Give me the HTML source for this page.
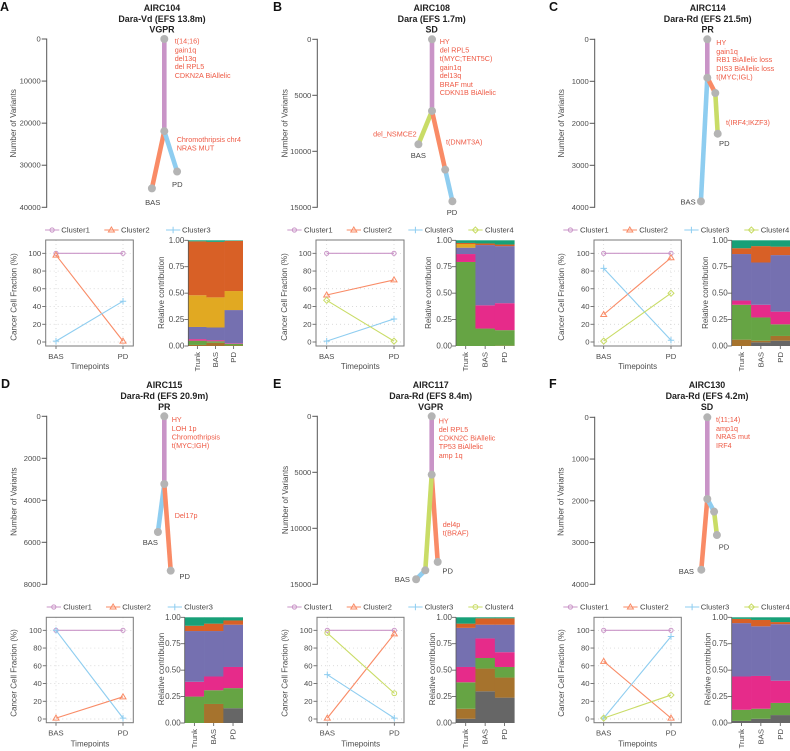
<!DOCTYPE html>
<html lang="en">
<head>
<meta charset="utf-8">
<title>Clonal evolution panels</title>
<style>
html,body{margin:0;padding:0;background:#fff;width:790px;height:751px;overflow:hidden}
svg{display:block;font-family:"Liberation Sans",Arial,sans-serif}
text{dominant-baseline:central}
.ttl{font-size:8.9px;font-weight:700;fill:#222;text-anchor:middle}
.ltr{font-size:12.5px;font-weight:700;fill:#111}
.ann{font-size:7.2px;fill:#ee5a45}
.nl{font-size:7.6px;fill:#444;text-anchor:middle}
.end{text-anchor:end}
.axt{font-size:8px;fill:#4d4d4d;text-anchor:middle}
</style>
</head>
<body>
<svg id="fig" xmlns="http://www.w3.org/2000/svg" width="790" height="751" viewBox="0 0 790 751">
<g id="marks"></g>
<g>
<text class="ltr" x="0" y="7">A</text>
<text class="ttl" x="162" y="8">AIRC104</text>
<text class="ttl" x="162" y="19">Dara-Vd (EFS 13.8m)</text>
<text class="ttl" x="162" y="29.5">VGPR</text>
<text class="ann" x="174.7" y="41">t(14;16)</text>
<text class="ann" x="174.7" y="50">gain1q</text>
<text class="ann" x="174.7" y="58.3">del13q</text>
<text class="ann" x="174.7" y="66.7">del RPL5</text>
<text class="ann" x="174.7" y="75.3">CDKN2A BiAllelic</text>
<text class="ann" x="176.7" y="139.7">Chromothripsis chr4</text>
<text class="ann" x="176.7" y="148">NRAS MUT</text>
<text class="nl" x="152.7" y="202.7">BAS</text>
<text class="nl" x="177.3" y="184.3">PD</text>
<text class="axt" transform="translate(13.3 123.3) rotate(-90)">Number of Variants</text>
<text class="axt" transform="translate(14 297) rotate(-90)">Cancer Cell Fraction (%)</text>
<text class="axt" x="90" y="366.7">Timepoints</text>
<text class="axt" transform="translate(161.7 292.7) rotate(-90)">Relative contribution</text>
</g>
<g>
<text class="ltr" x="273" y="7">B</text>
<text class="ttl" x="431.7" y="8">AIRC108</text>
<text class="ttl" x="431.7" y="19">Dara (EFS 1.7m)</text>
<text class="ttl" x="431.7" y="29.5">SD</text>
<text class="ann" x="439.7" y="41.7">HY</text>
<text class="ann" x="439.7" y="50">del RPL5</text>
<text class="ann" x="439.7" y="58.7">t(MYC;TENT5C)</text>
<text class="ann" x="439.7" y="67.3">gain1q</text>
<text class="ann" x="439.7" y="75.7">del13q</text>
<text class="ann" x="439.7" y="84.3">BRAF mut</text>
<text class="ann" x="439.7" y="92.7">CDKN1B BiAllelic</text>
<text class="ann end" x="416.7" y="134">del_NSMCE2</text>
<text class="ann" x="446" y="142">t(DNMT3A)</text>
<text class="nl" x="418.3" y="155.7">BAS</text>
<text class="nl" x="452" y="212.7">PD</text>
<text class="axt" transform="translate(285 123.3) rotate(-90)">Number of Variants</text>
<text class="axt" transform="translate(284.3 297) rotate(-90)">Cancer Cell Fraction (%)</text>
<text class="axt" x="360.3" y="366.7">Timepoints</text>
<text class="axt" transform="translate(428.7 292.7) rotate(-90)">Relative contribution</text>
</g>
<g>
<text class="ltr" x="549" y="7">C</text>
<text class="ttl" x="707.7" y="8">AIRC114</text>
<text class="ttl" x="707.7" y="19">Dara-Rd (EFS 21.5m)</text>
<text class="ttl" x="707.7" y="29.5">PR</text>
<text class="ann" x="716.3" y="42.3">HY</text>
<text class="ann" x="716.3" y="51.3">gain1q</text>
<text class="ann" x="716.3" y="59.7">RB1 BiAllelic loss</text>
<text class="ann" x="716.3" y="68.3">DIS3 BiAllelic loss</text>
<text class="ann" x="716.3" y="77">t(MYC;IGL)</text>
<text class="ann" x="726" y="122.7">t(IRF4;IKZF3)</text>
<text class="nl end" x="695.7" y="202">BAS</text>
<text class="nl" x="724.3" y="143.3">PD</text>
<text class="axt" transform="translate(561.7 123.3) rotate(-90)">Number of Variants</text>
<text class="axt" transform="translate(561.7 297) rotate(-90)">Cancer Cell Fraction (%)</text>
<text class="axt" x="637.7" y="366.7">Timepoints</text>
<text class="axt" transform="translate(705.3 292.7) rotate(-90)">Relative contribution</text>
</g>
<g>
<text class="ltr" x="1" y="384">D</text>
<text class="ttl" x="164.3" y="385">AIRC115</text>
<text class="ttl" x="164.3" y="396">Dara-Rd (EFS 20.9m)</text>
<text class="ttl" x="164.3" y="407">PR</text>
<text class="ann" x="171.7" y="419.7">HY</text>
<text class="ann" x="171.7" y="428.7">LOH 1p</text>
<text class="ann" x="171.7" y="437">Chromothripsis</text>
<text class="ann" x="171.7" y="445.7">t(MYC;IGH)</text>
<text class="ann" x="174.7" y="515.7">Del17p</text>
<text class="nl" x="150.3" y="542.7">BAS</text>
<text class="nl" x="184.7" y="576.7">PD</text>
<text class="axt" transform="translate(14 501.7) rotate(-90)">Number of Variants</text>
<text class="axt" transform="translate(14 673) rotate(-90)">Cancer Cell Fraction (%)</text>
<text class="axt" x="90" y="744">Timepoints</text>
<text class="axt" transform="translate(161.3 669) rotate(-90)">Relative contribution</text>
</g>
<g>
<text class="ltr" x="273" y="384">E</text>
<text class="ttl" x="430.7" y="385">AIRC117</text>
<text class="ttl" x="430.7" y="396">Dara-Rd (EFS 8.4m)</text>
<text class="ttl" x="430.7" y="407">VGPR</text>
<text class="ann" x="438.7" y="421">HY</text>
<text class="ann" x="438.7" y="429.7">del RPL5</text>
<text class="ann" x="438.7" y="438">CDKN2C BiAllelic</text>
<text class="ann" x="438.7" y="446.7">TP53 BiAllelic</text>
<text class="ann" x="438.7" y="455.3">amp 1q</text>
<text class="ann" x="442.7" y="524.7">del4p</text>
<text class="ann" x="442.7" y="533">t(BRAF)</text>
<text class="nl end" x="410" y="579.7">BAS</text>
<text class="nl" x="447.7" y="571">PD</text>
<text class="axt" transform="translate(285.7 500) rotate(-90)">Number of Variants</text>
<text class="axt" transform="translate(285 673) rotate(-90)">Cancer Cell Fraction (%)</text>
<text class="axt" x="360.7" y="744">Timepoints</text>
<text class="axt" transform="translate(432.3 669) rotate(-90)">Relative contribution</text>
</g>
<g>
<text class="ltr" x="549" y="384">F</text>
<text class="ttl" x="707" y="385">AIRC130</text>
<text class="ttl" x="707" y="396">Dara-Rd (EFS 4.2m)</text>
<text class="ttl" x="707" y="407">SD</text>
<text class="ann" x="716" y="419.3">t(11;14)</text>
<text class="ann" x="716" y="428.3">amp1q</text>
<text class="ann" x="716" y="436.7">NRAS mut</text>
<text class="ann" x="716" y="445.3">IRF4</text>
<text class="nl end" x="694" y="571.7">BAS</text>
<text class="nl" x="724" y="547">PD</text>
<text class="axt" transform="translate(561 501.7) rotate(-90)">Number of Variants</text>
<text class="axt" transform="translate(561.7 673) rotate(-90)">Cancer Cell Fraction (%)</text>
<text class="axt" x="637.7" y="744">Timepoints</text>
<text class="axt" transform="translate(708 669) rotate(-90)">Relative contribution</text>
</g>
</svg>
<script>
/* ---------- shared categories and tick labels ---------- */
const timepoints = ['BAS', 'PD'];
const signatureSamples = ['Trunk', 'BAS', 'PD'];
const clusterNames = ['Cluster1', 'Cluster2', 'Cluster3', 'Cluster4'];
const ccfTicks = [0, 20, 40, 60, 80, 100];
const contributionTicks = [0, 0.25, 0.5, 0.75, 1];

/* ---------- tree data: variants per node, lateral spread units, parent, cluster of incoming edge ---------- */
const treeTicks_A = [0, 10000, 20000, 30000, 40000];
const treeVariants_A = [0, 21900, 35500, 31500];
const treeSpread_A = [0, 0, -3.1, 3.2];
const treeParent_A = [-1, 0, 1, 1];
const treeCluster_A = [0, 0, 1, 2];

const treeTicks_B = [0, 5000, 10000, 15000];
const treeVariants_B = [0, 6400, 9375, 11640, 14460];
const treeSpread_B = [0, 0, -3.4, 3.3, 5.1];
const treeParent_B = [-1, 0, 1, 1, 3];
const treeCluster_B = [0, 0, 3, 1, 2];

const treeTicks_C = [0, 1000, 2000, 3000, 4000];
const treeVariants_C = [0, 914, 3858, 1279, 2248];
const treeSpread_C = [0, 0, -1.6, 2, 2.6];
const treeParent_C = [-1, 0, 1, 1, 3];
const treeCluster_C = [0, 0, 2, 1, 3];

const treeTicks_D = [0, 2000, 4000, 6000, 8000];
const treeVariants_D = [0, 3224, 5510, 7350];
const treeSpread_D = [0, 0, -1.6, 1.6];
const treeParent_D = [-1, 0, 1, 1];
const treeCluster_D = [0, 0, 2, 1];

const treeTicks_E = [0, 5000, 10000, 15000];
const treeVariants_E = [0, 5210, 13000, 13750, 14550];
const treeSpread_E = [0, 0, 1.5, -1.6, -3.9];
const treeParent_E = [-1, 0, 1, 1, 3];
const treeCluster_E = [0, 0, 1, 3, 2];

const treeTicks_F = [0, 1000, 2000, 3000, 4000];
const treeVariants_F = [0, 1957, 3650, 2260, 2820];
const treeSpread_F = [0, 0, -1.5, 1.7, 2.4];
const treeParent_F = [-1, 0, 1, 1, 3];
const treeCluster_F = [0, 0, 1, 2, 3];

/* ---------- cancer cell fraction per cluster: [BAS, PD] ---------- */
const ccf_A = [[100, 100], [98, 1], [1, 46]];
const ccf_B = [[100, 100], [53, 70], [1, 26], [47, 1]];
const ccf_C = [[100, 100], [31, 95], [83, 2], [1, 55]];
const ccf_D = [[100, 100], [1, 25], [100, 1]];
const ccf_E = [[100, 100], [1, 96], [50, 1], [97, 29]];
const ccf_F = [[100, 100], [65, 1], [1, 93], [1, 27]];

/* ---------- relative contribution, bottom to top: one row per sample (Trunk, BAS, PD) ---------- */
const contribution_A = [
  [0, .01, .04, .015, .115, .30, .51, .01],
  [0, .03, .015, .01, .12, .285, .525, .015],
  [0, .005, .015, .005, .315, .18, .475, .005]];
const contribution_B = [
  [0, 0, .795, .075, .06, .035, .01, .025],
  [0, 0, .165, .22, .57, 0, .015, .03],
  [0, .003, .147, .255, .54, 0, .015, .04]];
const contribution_C = [
  [0, .06, .33, .04, .44, 0, .055, .075],
  [.035, .015, .22, .12, .40, 0, .155, .055],
  [.05, .045, .11, .12, .535, 0, .08, .06]];
const contribution_D = [
  [0, 0, .25, .14, .48, 0, .05, .08],
  [0, .18, .13, .13, .43, 0, .07, .06],
  [.14, 0, .19, .20, .40, 0, .04, .03]];
const contribution_E = [
  [.04, .095, .25, .145, .37, 0, .04, .06],
  [.30, .215, .10, .185, .13, 0, .06, .01],
  [.24, .19, .10, .14, .26, 0, .06, .01]];
const contribution_F = [
  [.02, 0, .105, .315, .505, 0, .04, .015],
  [.04, 0, .095, .31, .47, 0, .06, .025],
  [.075, 0, .115, .21, .535, 0, .02, .045]];

/* ---------- styling and layout ---------- */
const clusterColors = ['#c994c7', '#f98b66', '#8ecdf0', '#c9dc66'];
const stackColors = ['#666666', '#a6732d', '#66a444', '#e62b8a', '#7570b0', '#e1a922', '#d86026', '#17a078'];
const SPREAD_PX = 4;
const NS = 'http://www.w3.org/2000/svg';
const root = document.getElementById('marks');

const panels = [
  { id: 'a', variants: treeVariants_A, spread: treeSpread_A, parent: treeParent_A, cluster: treeCluster_A, ticks: treeTicks_A, ccf: ccf_A, stack: contribution_A,
    treeAxis: 46.7, treeC: 164.3, treeTop: 39, treeBot: 207.3,
    ccfBox: [45.7, 133.3, 240, 346], ccfY: [342, 253.3], ccfX: [56, 123], catY: 356.7,
    bar: [188.3, 242.7, 346, 240.3], sampleY: 352,
    legY: 230, leg: [[45, 61.3], [104.3, 121], [166, 182]], shape4: 'diamond' },
  { id: 'b', variants: treeVariants_B, spread: treeSpread_B, parent: treeParent_B, cluster: treeCluster_B, ticks: treeTicks_B, ccf: ccf_B, stack: contribution_B,
    treeAxis: 317.3, treeC: 432, treeTop: 39.3, treeBot: 207.3,
    ccfBox: [316, 404, 240, 346], ccfY: [342, 253.3], ccfX: [326.7, 394], catY: 356.7,
    bar: [456, 514.3, 346, 240.3], sampleY: 352,
    legY: 230, leg: [[287.3, 304], [346.7, 363.3], [408.3, 424.7], [468.3, 485]], shape4: 'diamond' },
  { id: 'c', variants: treeVariants_C, spread: treeSpread_C, parent: treeParent_C, cluster: treeCluster_C, ticks: treeTicks_C, ccf: ccf_C, stack: contribution_C,
    treeAxis: 594.7, treeC: 707.3, treeTop: 39.3, treeBot: 207.3,
    ccfBox: [594, 681.3, 240, 346], ccfY: [342, 253.3], ccfX: [603.7, 671], catY: 356.7,
    bar: [731.7, 790, 346, 240.3], sampleY: 352,
    legY: 230, leg: [[563.3, 580], [622.7, 639.3], [684.3, 700.7], [744.3, 760.7]], shape4: 'diamond' },
  { id: 'd', variants: treeVariants_D, spread: treeSpread_D, parent: treeParent_D, cluster: treeCluster_D, ticks: treeTicks_D, ccf: ccf_D, stack: contribution_D,
    treeAxis: 46.7, treeC: 164.3, treeTop: 416.3, treeBot: 584.3,
    ccfBox: [46.3, 133.3, 617.3, 722.7], ccfY: [719, 630.3], ccfX: [56, 123], catY: 733,
    bar: [184.7, 242.7, 723, 617.3], sampleY: 729,
    legY: 607, leg: [[46.7, 63.3], [106, 122.3], [167.7, 184.3]], shape4: 'diamond' },
  { id: 'e', variants: treeVariants_E, spread: treeSpread_E, parent: treeParent_E, cluster: treeCluster_E, ticks: treeTicks_E, ccf: ccf_E, stack: contribution_E,
    treeAxis: 317.3, treeC: 431.7, treeTop: 416.3, treeBot: 584.3,
    ccfBox: [317, 404, 617.3, 722.7], ccfY: [719, 630.3], ccfX: [327.3, 394.3], catY: 733,
    bar: [456, 514.3, 723, 617.3], sampleY: 729,
    legY: 607, leg: [[287.3, 304], [346.7, 363.3], [408.3, 424.7], [468.3, 485]], shape4: 'circle' },
  { id: 'f', variants: treeVariants_F, spread: treeSpread_F, parent: treeParent_F, cluster: treeCluster_F, ticks: treeTicks_F, ccf: ccf_F, stack: contribution_F,
    treeAxis: 594.7, treeC: 707.3, treeTop: 417.3, treeBot: 584.3,
    ccfBox: [594, 681.3, 617.3, 722.7], ccfY: [719, 630.3], ccfX: [603.7, 671], catY: 733,
    bar: [731.7, 790, 723, 617.3], sampleY: 729,
    legY: 607, leg: [[563.3, 580], [623.3, 640], [685, 700.7], [744.3, 761]], shape4: 'diamond' }
];

function mk(tag, attrs, parent) {
  const node = document.createElementNS(NS, tag);
  for (const k in attrs) node.setAttribute(k, attrs[k]);
  (parent || root).appendChild(node);
  return node;
}
function scale(d0, d1, r0, r1) {
  return v => r0 + (v - d0) / (d1 - d0) * (r1 - r0);
}

function marker(parent, shapeIdx, x, y, shape4) {
  const col = clusterColors[shapeIdx];
  const base = { fill: 'none', stroke: col, 'stroke-width': 1 };
  if (shapeIdx === 0) return mk('circle', Object.assign({ cx: x, cy: y, r: 2.1 }, base), parent);
  if (shapeIdx === 1) return mk('path', Object.assign({ d: `M${x} ${y - 3}L${x + 3} ${y + 2}L${x - 3} ${y + 2}Z` }, base), parent);
  if (shapeIdx === 2) return mk('path', Object.assign({ d: `M${x - 3.2} ${y}H${x + 3.2}M${x} ${y - 3.2}V${y + 3.2}` }, base), parent);
  if (shape4 === 'circle') return mk('circle', Object.assign({ cx: x, cy: y, r: 2.4 }, base), parent);
  return mk('path', Object.assign({ d: `M${x} ${y - 3}L${x + 3} ${y}L${x} ${y + 3}L${x - 3} ${y}Z` }, base), parent);
}

function drawTree(p) {
  const g = mk('g', {});
  
  
  const ticks = p.ticks;
  const maxV = ticks[ticks.length - 1];
  const yS = scale(0, maxV, p.treeTop, p.treeBot);
  const xS = s => p.treeC + s * SPREAD_PX;
  const axisLine = mk('line', { x1: p.treeAxis, x2: p.treeAxis, y1: yS(0) - .5, y2: yS(maxV) + .5, stroke: '#555', 'stroke-width': 1 }, g);
  
  
  ticks.forEach(t => {
    const tk = mk('line', { x1: p.treeAxis - 5, x2: p.treeAxis, y1: yS(t), y2: yS(t), stroke: '#555', 'stroke-width': 1 }, g);
    
    
    const lb = mk('text', { x: p.treeAxis - 6, y: yS(t), 'text-anchor': 'end', 'font-size': 7.6, fill: '#4d4d4d' }, g);
    lb.textContent = t;
    
    
  });
  p.variants.forEach((v, i) => {
    const par = p.parent[i];
    if (par < 0) return;
    const e = mk('line', { x1: xS(p.spread[par]), y1: yS(p.variants[par]), x2: xS(p.spread[i]), y2: yS(v), stroke: clusterColors[p.cluster[i]], 'stroke-width': 4.6 }, g);
    
    
  });
  p.variants.forEach((v, i) => {
    const n = mk('circle', { cx: xS(p.spread[i]), cy: yS(v), r: 4, fill: '#b4b4b4' }, g);
    
    
  });
}

function drawLegend(p) {
  const g = mk('g', {});
  
  
  p.leg.forEach((pos, i) => {
    const e = mk('g', {}, g);
    
    
    mk('line', { x1: pos[0], x2: pos[0] + 14.3, y1: p.legY, y2: p.legY, stroke: clusterColors[i], 'stroke-width': 1 }, e);
    marker(e, i, pos[0] + 7.1, p.legY, p.shape4);
    const t = mk('text', { x: pos[1], y: p.legY, 'font-size': 7.7, fill: '#444' }, e);
    t.textContent = clusterNames[i];
  });
}

function drawCcf(p) {
  const g = mk('g', {});
  
  
  const [x0, x1, y0, y1] = p.ccfBox;
  const yS = scale(0, 100, p.ccfY[0], p.ccfY[1]);
  const xS = i => p.ccfX[0] + i * (p.ccfX[1] - p.ccfX[0]);
  ccfTicks.forEach(t => {
    const gl = mk('line', { x1: x0, x2: x1, y1: yS(t), y2: yS(t), stroke: '#cfcfcf', 'stroke-width': .7, 'stroke-dasharray': '1 3' }, g);
    
    
    const tk = mk('line', { x1: x0 - 3.5, x2: x0, y1: yS(t), y2: yS(t), stroke: '#555', 'stroke-width': .8 }, g);
    
    
    const lb = mk('text', { x: x0 - 4.5, y: yS(t), 'text-anchor': 'end', 'font-size': 7.7, fill: '#4d4d4d' }, g);
    lb.textContent = t;
    
    
  });
  timepoints.forEach((t, i) => {
    const gl = mk('line', { x1: xS(i), x2: xS(i), y1: y0, y2: y1, stroke: '#cfcfcf', 'stroke-width': .7, 'stroke-dasharray': '1 3' }, g);
    
    
    const tk = mk('line', { x1: xS(i), x2: xS(i), y1: y1, y2: y1 + 3, stroke: '#555', 'stroke-width': .8 }, g);
    
    
    const lb = mk('text', { x: xS(i), y: p.catY, 'text-anchor': 'middle', 'font-size': 7.7, fill: '#4d4d4d' }, g);
    lb.textContent = t;
    
    
  });
  const fr = mk('rect', { x: x0, y: y0, width: x1 - x0, height: y1 - y0, fill: 'none', stroke: '#7a7a7a', 'stroke-width': 1 }, g);
  
  
  p.ccf.forEach((series, c) => {
    const sg = mk('g', {}, g);
    
    
    mk('polyline', { points: series.map((v, i) => `${xS(i)},${yS(v)}`).join(' '), fill: 'none', stroke: clusterColors[c], 'stroke-width': 1.1 }, sg);
    series.forEach((v, i) => marker(sg, c, xS(i), yS(v), p.shape4));
  });
}

function drawBars(p) {
  const g = mk('g', {});
  
  
  const [x0, x1, yb, yt] = p.bar;
  const yS = scale(0, 1, yb, yt);
  const band = (x1 - x0) / signatureSamples.length;
  p.stack.forEach((row, s) => {
    let cum = 0;
    row.forEach((v, k) => {
      if (v > 0) {
        const r = mk('rect', { x: x0 + s * band, width: band + .3, y: yS(cum + v), height: yS(cum) - yS(cum + v), fill: stackColors[k] }, g);
        
        
      }
      cum += v;
    });
    const cx = x0 + (s + .5) * band;
    const tk = mk('line', { x1: cx, x2: cx, y1: yb, y2: yb + 3, stroke: '#555', 'stroke-width': .8 }, g);
    
    
    const lb = mk('text', { transform: `translate(${cx} ${p.sampleY}) rotate(-90)`, 'text-anchor': 'end', 'font-size': 7.7, fill: '#4d4d4d' }, g);
    lb.textContent = signatureSamples[s];
    
    
  });
  const ax = mk('line', { x1: x0, x2: x0, y1: yS(1), y2: yS(0), stroke: '#555', 'stroke-width': .8 }, g);
  
  
  contributionTicks.forEach(t => {
    const tk = mk('line', { x1: x0 - 4, x2: x0, y1: yS(t), y2: yS(t), stroke: '#555', 'stroke-width': .8 }, g);
    
    
    const lb = mk('text', { x: x0 - 4, y: yS(t), 'text-anchor': 'end', 'font-size': 8, fill: '#4d4d4d' }, g);
    lb.textContent = t.toFixed(2);
    
    
  });
}

panels.forEach(p => {
  drawTree(p);
  drawLegend(p);
  drawCcf(p);
  drawBars(p);
});
</script>
</body>
</html>
